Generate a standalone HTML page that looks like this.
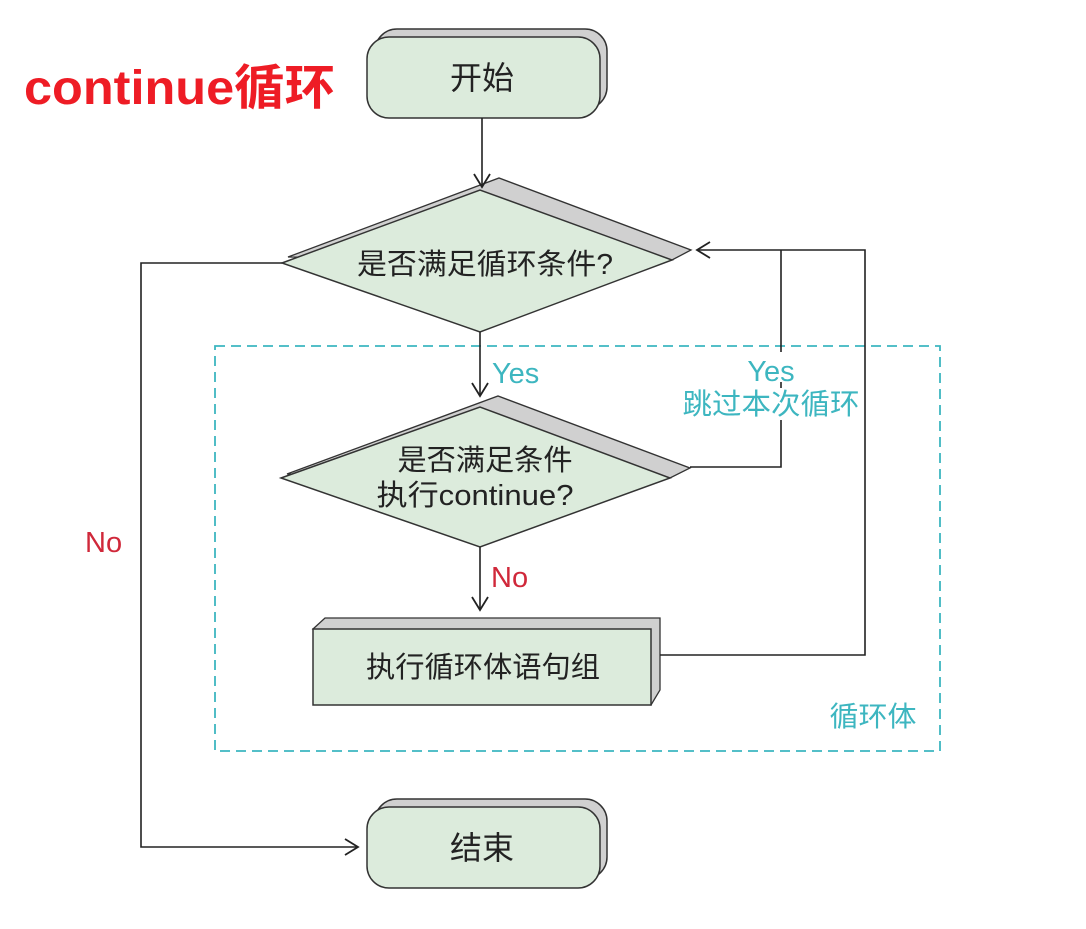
<!DOCTYPE html>
<html><head><meta charset="utf-8"><style>
body{margin:0;background:#fff;width:1086px;height:924px;overflow:hidden}
svg text{font-family:"Liberation Sans","Noto Sans CJK SC",sans-serif}
</style></head><body>
<svg width="1086" height="924" viewBox="0 0 1086 924">
<defs><marker id="a" markerWidth="16" markerHeight="20" refX="14" refY="10" orient="auto" markerUnits="userSpaceOnUse"><path d="M1,2 L14,10 L1,18" fill="none" stroke="#222" stroke-width="1.8"/></marker></defs>
<text x="24" y="104" font-size="48" font-weight="bold" fill="#ee1c25" textLength="311" lengthAdjust="spacingAndGlyphs">continue循环</text>
<rect x="215" y="346" width="725" height="405" fill="none" stroke="#3db6c0" stroke-width="1.8" stroke-dasharray="10,6"/>
<!-- start -->
<rect x="375" y="29" width="232" height="80" rx="22" fill="#d0d0d0" stroke="#333" stroke-width="1.5"/>
<rect x="367" y="37" width="233" height="81" rx="22" fill="#dcebdc" stroke="#333" stroke-width="1.5"/>
<text x="482" y="89" font-size="32" text-anchor="middle" fill="#222">开始</text>
<!-- end -->
<rect x="375" y="799" width="232" height="80" rx="22" fill="#d0d0d0" stroke="#333" stroke-width="1.5"/>
<rect x="367" y="807" width="233" height="81" rx="22" fill="#dcebdc" stroke="#333" stroke-width="1.5"/>
<text x="482" y="859" font-size="32" text-anchor="middle" fill="#222">结束</text>
<!-- diamond1 -->
<polygon points="288,257 499,178 691,250 672,260" fill="#d0d0d0" stroke="#333" stroke-width="1.3"/>
<polygon points="282,263 480,190 672,260 480,332" fill="#dcebdc" stroke="#333" stroke-width="1.5"/>
<text x="485" y="274" font-size="29" text-anchor="middle" fill="#222" textLength="256" lengthAdjust="spacingAndGlyphs">是否满足循环条件?</text>
<!-- diamond2 -->
<polygon points="287,474 498,396 690,468 670,478" fill="#d0d0d0" stroke="#333" stroke-width="1.3"/>
<polygon points="281,478 480,407 670,478 480,547" fill="#dcebdc" stroke="#333" stroke-width="1.5"/>
<text x="485" y="470" font-size="29" text-anchor="middle" fill="#222" textLength="175" lengthAdjust="spacingAndGlyphs">是否满足条件</text>
<text x="475" y="505" font-size="29" text-anchor="middle" fill="#222" textLength="197" lengthAdjust="spacingAndGlyphs">执行continue?</text>
<!-- process -->
<polygon points="313,629 325,618 660,618 660,690 651,705" fill="#d0d0d0" stroke="#333" stroke-width="1.3"/>
<rect x="313" y="629" width="338" height="76" fill="#dcebdc" stroke="#333" stroke-width="1.5"/>
<text x="483" y="677" font-size="29" text-anchor="middle" fill="#222" textLength="234" lengthAdjust="spacingAndGlyphs">执行循环体语句组</text>
<!-- lines -->
<g fill="none" stroke="#222" stroke-width="1.6">
<path d="M482,118 V187" marker-end="url(#a)"/>
<path d="M480,332 V396" marker-end="url(#a)"/>
<path d="M480,547 V610" marker-end="url(#a)"/>
<path d="M282,263 H141 V847 H358" marker-end="url(#a)"/>
<path d="M690,467 H781 V250"/>
<path d="M660,655 H865 V250 H697" marker-end="url(#a)"/>
</g>
<text x="492" y="383" font-size="29" fill="#3db6c0">Yes</text>
<text x="491" y="587" font-size="29" fill="#d0283a">No</text>
<text x="85" y="552" font-size="29" fill="#d0283a">No</text>
<rect x="742" y="352" width="60" height="30" fill="#fff"/>
<text x="771" y="381" font-size="29" text-anchor="middle" fill="#3db6c0">Yes</text>
<rect x="683" y="388" width="178" height="32" fill="#fff"/>
<text x="771" y="414" font-size="29" text-anchor="middle" fill="#3db6c0" textLength="177" lengthAdjust="spacingAndGlyphs">跳过本次循环</text>
<text x="873" y="726" font-size="28" text-anchor="middle" fill="#3db6c0" textLength="87" lengthAdjust="spacingAndGlyphs">循环体</text>
</svg>
</body></html>
